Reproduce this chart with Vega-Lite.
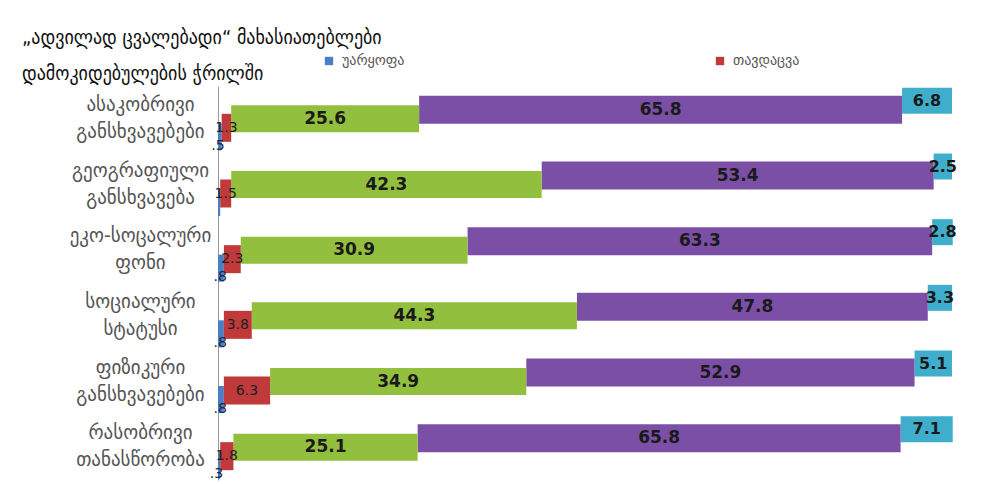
{
  "$schema": "https://vega.github.io/schema/vega-lite/v6.json",
  "width": 734,
  "height": 394,
  "autosize": "none",
  "padding": {"left": 218, "top": 86, "right": 33, "bottom": 4},
  "background": "white",
  "config": {
    "view": {"stroke": null},
    "font": "DejaVu Sans"
  },
  "title": {
    "text": ["„ადვილად ცვალებადი“ მახასიათებლები", "დამოკიდებულების ჭრილში"],
    "anchor": "start",
    "frame": "group",
    "dx": -196,
    "offset": -30,
    "fontSize": 20,
    "lineHeight": 36,
    "fontWeight": "normal",
    "color": "#111111",
    "font": "DejaVu Sans Condensed"
  },
  "data": {
    "values": [
      {"cat": "ასაკობრივი|განსხვავებები", "series": "უარყოფა", "ord": 1, "value": 0.5, "label": ".5"},
      {"cat": "ასაკობრივი|განსხვავებები", "series": "თავდაცვა", "ord": 2, "value": 1.3, "label": "1.3"},
      {"cat": "ასაკობრივი|განსხვავებები", "series": "მინიმიზაცია", "ord": 3, "value": 25.6, "label": "25.6"},
      {"cat": "ასაკობრივი|განსხვავებები", "series": "მიღება", "ord": 4, "value": 65.8, "label": "65.8"},
      {"cat": "ასაკობრივი|განსხვავებები", "series": "ადაპტაცია", "ord": 5, "value": 6.8, "label": "6.8"},
      {"cat": "გეოგრაფიული|განსხვავება", "series": "უარყოფა", "ord": 1, "value": 0.3, "label": ""},
      {"cat": "გეოგრაფიული|განსხვავება", "series": "თავდაცვა", "ord": 2, "value": 1.5, "label": "1.5"},
      {"cat": "გეოგრაფიული|განსხვავება", "series": "მინიმიზაცია", "ord": 3, "value": 42.3, "label": "42.3"},
      {"cat": "გეოგრაფიული|განსხვავება", "series": "მიღება", "ord": 4, "value": 53.4, "label": "53.4"},
      {"cat": "გეოგრაფიული|განსხვავება", "series": "ადაპტაცია", "ord": 5, "value": 2.5, "label": "2.5"},
      {"cat": "ეკო-სოცალური|ფონი", "series": "უარყოფა", "ord": 1, "value": 0.8, "label": ".8"},
      {"cat": "ეკო-სოცალური|ფონი", "series": "თავდაცვა", "ord": 2, "value": 2.3, "label": "2.3"},
      {"cat": "ეკო-სოცალური|ფონი", "series": "მინიმიზაცია", "ord": 3, "value": 30.9, "label": "30.9"},
      {"cat": "ეკო-სოცალური|ფონი", "series": "მიღება", "ord": 4, "value": 63.3, "label": "63.3"},
      {"cat": "ეკო-სოცალური|ფონი", "series": "ადაპტაცია", "ord": 5, "value": 2.8, "label": "2.8"},
      {"cat": "სოციალური|სტატუსი", "series": "უარყოფა", "ord": 1, "value": 0.8, "label": ".8"},
      {"cat": "სოციალური|სტატუსი", "series": "თავდაცვა", "ord": 2, "value": 3.8, "label": "3.8"},
      {"cat": "სოციალური|სტატუსი", "series": "მინიმიზაცია", "ord": 3, "value": 44.3, "label": "44.3"},
      {"cat": "სოციალური|სტატუსი", "series": "მიღება", "ord": 4, "value": 47.8, "label": "47.8"},
      {"cat": "სოციალური|სტატუსი", "series": "ადაპტაცია", "ord": 5, "value": 3.3, "label": "3.3"},
      {"cat": "ფიზიკური|განსხვავებები", "series": "უარყოფა", "ord": 1, "value": 0.8, "label": ".8"},
      {"cat": "ფიზიკური|განსხვავებები", "series": "თავდაცვა", "ord": 2, "value": 6.3, "label": "6.3"},
      {"cat": "ფიზიკური|განსხვავებები", "series": "მინიმიზაცია", "ord": 3, "value": 34.9, "label": "34.9"},
      {"cat": "ფიზიკური|განსხვავებები", "series": "მიღება", "ord": 4, "value": 52.9, "label": "52.9"},
      {"cat": "ფიზიკური|განსხვავებები", "series": "ადაპტაცია", "ord": 5, "value": 5.1, "label": "5.1"},
      {"cat": "რასობრივი|თანასწორობა", "series": "უარყოფა", "ord": 1, "value": 0.3, "label": ".3"},
      {"cat": "რასობრივი|თანასწორობა", "series": "თავდაცვა", "ord": 2, "value": 1.8, "label": "1.8"},
      {"cat": "რასობრივი|თანასწორობა", "series": "მინიმიზაცია", "ord": 3, "value": 25.1, "label": "25.1"},
      {"cat": "რასობრივი|თანასწორობა", "series": "მიღება", "ord": 4, "value": 65.8, "label": "65.8"},
      {"cat": "რასობრივი|თანასწორობა", "series": "ადაპტაცია", "ord": 5, "value": 7.1, "label": "7.1"}
    ]
  },
  "transform": [
    {"stack": "value", "groupby": ["cat"], "sort": [{"field": "ord", "order": "ascending"}], "as": ["x0", "x1"]},
    {"calculate": "(datum.x0 + datum.x1) / 2", "as": "mid"}
  ],
  "encoding": {
    "y": {
      "field": "cat",
      "type": "nominal",
      "sort": null,
      "scale": {"paddingInner": 0, "paddingOuter": 0},
      "axis": {
        "title": null,
        "labelExpr": "split(datum.label, '|')",
        "labelAlign": "center",
        "labelBaseline": "middle",
        "labelPadding": 78,
        "labelOffset": -14,
        "labelFontSize": 19,
        "labelLineHeight": 27,
        "labelColor": "#555555",
        "labelFont": "DejaVu Sans",
        "ticks": false,
        "domainColor": "#999999",
        "domainWidth": 1,
        "labelLimit": 300
      }
    }
  },
  "layer": [
    {
      "transform": [{"filter": "datum.series === 'ადაპტაცია'"}],
      "mark": {"type": "bar", "height": 26, "yOffset": -18},
      "encoding": {
        "x": {"field": "x0", "type": "quantitative", "scale": {"domain": [0, 100], "nice": false}, "axis": null},
        "x2": {"field": "x1"},
        "color": {"field": "series", "type": "nominal"}
      }
    },
    {
      "transform": [{"filter": "datum.series === 'მიღება'"}],
      "mark": {"type": "bar", "height": 28, "yOffset": -9},
      "encoding": {
        "x": {"field": "x0", "type": "quantitative"},
        "x2": {"field": "x1"},
        "color": {"field": "series", "type": "nominal"}
      }
    },
    {
      "transform": [{"filter": "datum.series === 'მინიმიზაცია'"}],
      "mark": {"type": "bar", "height": 27, "yOffset": 0},
      "encoding": {
        "x": {"field": "x0", "type": "quantitative"},
        "x2": {"field": "x1"},
        "color": {"field": "series", "type": "nominal"}
      }
    },
    {
      "transform": [{"filter": "datum.series === 'უარყოფა'"}],
      "mark": {"type": "bar", "height": 27, "yOffset": 18},
      "encoding": {
        "x": {"field": "x0", "type": "quantitative"},
        "x2": {"field": "x1"},
        "color": {"field": "series", "type": "nominal"}
      }
    },
    {
      "transform": [{"filter": "datum.series === 'თავდაცვა'"}],
      "mark": {"type": "bar", "height": 28, "yOffset": 9},
      "encoding": {
        "x": {"field": "x0", "type": "quantitative"},
        "x2": {"field": "x1"},
        "color": {
          "field": "series",
          "type": "nominal",
          "scale": {
            "domain": ["უარყოფა", "თავდაცვა", "მინიმიზაცია", "მიღება", "ადაპტაცია"],
            "range": ["#4a7fc4", "#c0393b", "#93bf3f", "#7b4fa6", "#3eaecc"]
          },
          "legend": {
            "values": ["უარყოფა", "თავდაცვა"],
            "title": null,
            "orient": "none",
            "direction": "horizontal",
            "legendX": 104,
            "legendY": -32,
            "symbolType": "square",
            "symbolSize": 70,
            "symbolStrokeWidth": 0,
            "symbolOpacity": 1,
            "labelFontSize": 14,
            "labelColor": "#555555",
            "labelFont": "DejaVu Sans",
            "columnPadding": 308,
            "labelOffset": 6
          }
        }
      }
    },
    {
      "transform": [{"filter": "datum.series === 'მინიმიზაცია'"}],
      "mark": {"type": "text", "fontSize": 17, "fontWeight": "bold", "color": "#1a1a1a", "align": "center", "baseline": "middle", "yOffset": 0},
      "encoding": {
        "x": {"field": "mid", "type": "quantitative"},
        "text": {"field": "label"}
      }
    },
    {
      "transform": [{"filter": "datum.series === 'მიღება'"}],
      "mark": {"type": "text", "fontSize": 17, "fontWeight": "bold", "color": "#1a1a1a", "align": "center", "baseline": "middle", "yOffset": -9},
      "encoding": {
        "x": {"field": "mid", "type": "quantitative"},
        "text": {"field": "label"}
      }
    },
    {
      "transform": [{"filter": "datum.series === 'ადაპტაცია'"}],
      "mark": {"type": "text", "fontSize": 16, "fontWeight": "bold", "color": "#1a1a1a", "align": "center", "baseline": "middle", "yOffset": -18},
      "encoding": {
        "x": {"field": "mid", "type": "quantitative"},
        "text": {"field": "label"}
      }
    },
    {
      "transform": [{"filter": "datum.series === 'თავდაცვა'"}],
      "mark": {"type": "text", "fontSize": 14, "color": "#222222", "align": "center", "baseline": "middle", "yOffset": 9},
      "encoding": {
        "x": {"field": "mid", "type": "quantitative"},
        "text": {"field": "label"}
      }
    },
    {
      "transform": [{"filter": "datum.series === 'უარყოფა'"}],
      "mark": {"type": "text", "fontSize": 14, "color": "#222244", "align": "right", "baseline": "middle", "yOffset": 27, "dx": 3},
      "encoding": {
        "x": {"field": "x1", "type": "quantitative"},
        "text": {"field": "label"}
      }
    }
  ]
}
